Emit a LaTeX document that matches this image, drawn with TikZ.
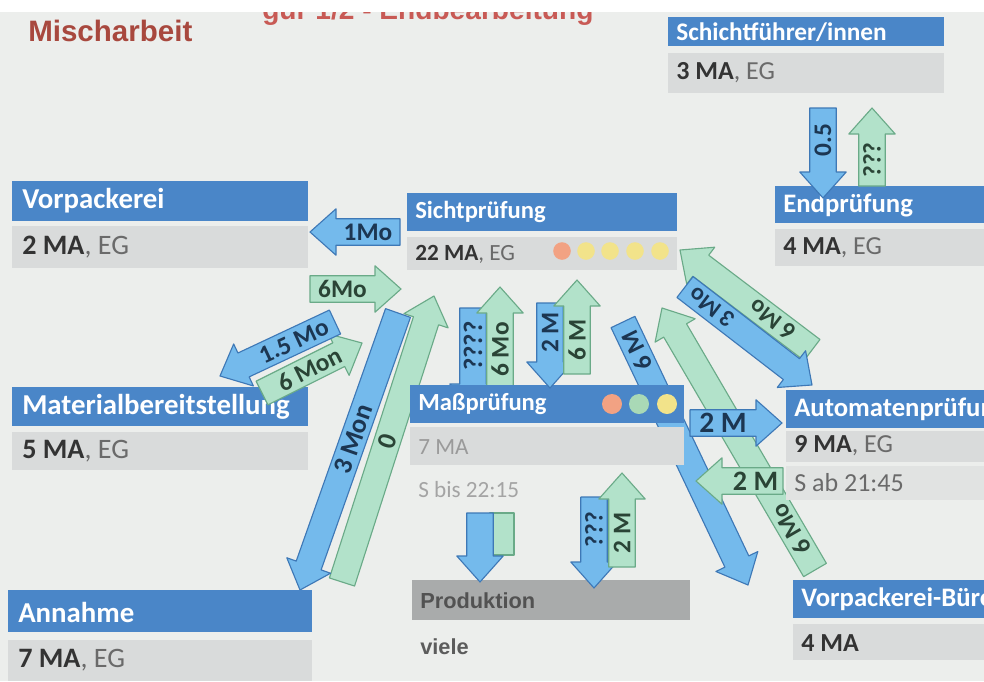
\documentclass[tikz,border=0pt]{standalone}
\usepackage{fontspec}
\setmainfont{Carlito}
\newfontfamily\arialfont{Liberation Sans}
\usetikzlibrary{calc}

\definecolor{hintergrund}{HTML}{ECEEEC}
\definecolor{kopfblau}{HTML}{4A86C8}
\definecolor{feldgrau}{HTML}{D9DBDB}
\definecolor{prodgrau}{HTML}{A9ABAB}
\definecolor{pfeilblau}{HTML}{74BAEC}
\definecolor{randblau}{HTML}{3E78B6}
\definecolor{pfeilgruen}{HTML}{B2E2CA}
\definecolor{randgruen}{HTML}{6AAA88}
\definecolor{titelrot}{HTML}{A8483E}
\definecolor{titelrosa}{HTML}{C85A55}
\definecolor{schrift}{HTML}{333333}
\definecolor{grau}{HTML}{6A6A6A}
\definecolor{hellgrau}{HTML}{9A9A9A}
\definecolor{punktorange}{HTML}{F2A283}
\definecolor{punktgelb}{HTML}{F2E38A}
\definecolor{punktgruen}{HTML}{A9D9B6}

\tikzset{
  kopftext/.style={anchor=west, inner sep=0pt, text=white, font=\fontsize{17.5}{18}\selectfont\bfseries},
  kopflinks/.style={kopftext, font=\fontsize{20.5}{21}\selectfont\bfseries},
  kopfrechts/.style={kopftext, font=\fontsize{19}{19}\selectfont\bfseries},
  feldtext/.style={anchor=west, inner sep=0pt, text=schrift, font=\fontsize{16.5}{17}\selectfont},
  feldlinks/.style={feldtext, font=\fontsize{20}{20}\selectfont},
  feldrechts/.style={feldtext, font=\fontsize{18.5}{19}\selectfont},
  blaupfeil/.style={fill=pfeilblau, draw=randblau, line width=0.8pt, line join=round},
  gruenpfeil/.style={fill=pfeilgruen, draw=randgruen, line width=0.8pt, line join=round},
  blaupfeiltext/.style={inner sep=0pt, text=randblau!45!black},
  gruenpfeiltext/.style={inner sep=0pt, text=randgruen!40!black},
  punkt/.style={circle, inner sep=0pt, minimum size=4.4mm}
}

% block arrow: [label size] style, start, tip, label, label rotation, label position
\newcommand{\pfeil}[7][18]{%
  \coordinate (hb) at ($(#4)!6.5mm!(#3)$);
  \draw[#2] ($(#3)!3.3mm!90:(#4)$) -- ($(hb)!3.3mm!90:(#4)$) -- ($(hb)!5.8mm!90:(#4)$) -- (#4)
    -- ($(hb)!5.8mm!-90:(#4)$) -- ($(hb)!3.3mm!-90:(#4)$) -- ($(#3)!3.3mm!-90:(#4)$) -- cycle;
  \node[#2text, rotate=#6, font=\fontsize{#1}{#1}\selectfont\bfseries] at ($(#3)!#7!(hb)$) {#5};
}
\newcommand{\mafeld}[2]{\textbf{#1}\textcolor{grau}{#2}}

\begin{document}
\begin{tikzpicture}[x=0.25mm,y=-0.25mm]
    \useasboundingbox (0,0) rectangle (984,681);
    \fill[white] (0,0) rectangle (984,12);
    \fill[hintergrund] (0,12) rectangle (984,681);
    \begin{scope}
    \clip (0,12) rectangle (984,681);
    % titles
    \node[anchor=base west, inner sep=0pt, text=titelrot, font=\arialfont\fontsize{21}{21}\selectfont\bfseries] (titel) at (28,41) {Mischarbeit};
    \node[anchor=base west, inner sep=0pt, text=titelrosa, font=\arialfont\fontsize{20}{20}\selectfont\bfseries] (titelzwei) at (262,19) {gur 1/2 - Endbearbeitung};

    % arrows behind the boxes
    \pfeil[19]{blaupfeil}{473,308}{473,410}{????}{90}{0.5}
    \pfeil{gruenpfeil}{500,386}{500,287}{6 Mo}{90}{0.5}
    \pfeil{blaupfeil}{623,322}{748,585}{6 M}{116}{0.12}
    \pfeil{gruenpfeil}{815,570}{662,308}{6 Mo}{120}{0.17}
    \pfeil[19]{gruenpfeil}{342,582}{434,296}{0}{72}{0.54}
    \pfeil[19]{blaupfeil}{398,313}{300,590}{3 Mon}{70.5}{0.5}

    % Schichtfuehrer/innen
    \fill[kopfblau] (668,17) rectangle (944,46);
    \node[kopfrechts, font=\fontsize{18}{18}\selectfont\bfseries] (schicht) at (676,32) {Schichtführer/innen};
    \fill[feldgrau] (668,53) rectangle (944,93);
    \node[feldrechts] (schichtma) at (676,73) {\mafeld{3 MA}{, EG}};

    % Vorpackerei
    \fill[kopfblau] (12,181) rectangle (308,221);
    \node[kopflinks] (vorp) at (22,201) {Vorpackerei};
    \fill[feldgrau] (12,226) rectangle (308,268);
    \node[feldlinks] (vorpma) at (22,247) {\mafeld{2 MA}{, EG}};

    % Sichtpruefung
    \fill[kopfblau] (407,193) rectangle (677,231);
    \node[kopftext] (sicht) at (415,212) {Sichtprüfung};
    \fill[feldgrau] (407,237) rectangle (677,270);
    \node[feldtext] (sichtma) at (415,254) {\mafeld{22 MA}{, EG}};
    \node[punkt, fill=punktorange] (s1) at (562,251) {};
    \foreach \x/\n in {586/2,610/3,635/4,660/5}
        \node[punkt, fill=punktgelb] (s\n) at (\x,251) {};

    % Endpruefung
    \fill[kopfblau] (775,186) rectangle (984,223);
    \node[kopfrechts] (endp) at (783,205) {Endprüfung};
    \fill[feldgrau] (775,229) rectangle (984,266);
    \node[feldrechts] (endpma) at (783,248) {\mafeld{4 MA}{, EG}};

    % Materialbereitstellung
    \fill[kopfblau] (12,387) rectangle (308,426);
    \node[kopflinks] (mat) at (22,407) {Materialbereitstellung};
    \fill[feldgrau] (12,432) rectangle (308,470);
    \node[feldlinks] (matma) at (22,451) {\mafeld{5 MA}{, EG}};

    % Masspruefung
    \fill[kopfblau] (410,385) rectangle (684,423);
    \node[kopftext] (mass) at (418,404) {Maßprüfung};
    \node[punkt, minimum size=5mm, fill=punktorange] (m1) at (612,404) {};
    \node[punkt, minimum size=5mm, fill=punktgruen] (m2) at (639,404) {};
    \node[punkt, minimum size=5mm, fill=punktgelb] (m3) at (667,404) {};
    \fill[feldgrau] (410,427) rectangle (684,465);
    \node[feldtext, text=hellgrau] (massma) at (418,447) {7 MA};
    \node[feldtext, text=hellgrau!90!white] (massschicht) at (418,490) {S bis 22:15};

    % Automatenpruefung
    \fill[kopfblau] (786,390) rectangle (984,428);
    \node[kopfrechts] (auto) at (794,409) {Automatenprüfung};
    \fill[feldgrau] (786,431) rectangle (984,462);
    \node[feldrechts] (automa) at (794,446) {\mafeld{9 MA}{, EG}};
    \fill[feldgrau!60!hintergrund] (786,466) rectangle (984,500);
    \node[feldrechts, text=grau] (autoschicht) at (794,483) {S ab 21:45};

    % Annahme
    \fill[kopfblau] (8,590) rectangle (312,632);
    \node[kopflinks] (annahme) at (18,612) {Annahme};
    \fill[feldgrau] (8,640) rectangle (312,681);
    \node[feldlinks] (annahmema) at (18,660) {\mafeld{7 MA}{, EG}};

    % Produktion
    \fill[prodgrau] (412,580) rectangle (690,620);
    \node[anchor=west, inner sep=0pt, text=schrift!85!white, font=\arialfont\fontsize{15.5}{16}\selectfont\bfseries] (prod) at (420,601) {Produktion};
    \node[anchor=west, inner sep=0pt, text=schrift!80!white, font=\arialfont\fontsize{15.5}{16}\selectfont\bfseries] (prodma) at (420,647) {viele};

    % Vorpackerei-Buero
    \fill[kopfblau] (793,580) rectangle (984,618);
    \node[kopfrechts] (buero) at (801,599) {Vorpackerei-Büro};
    \fill[feldgrau] (793,624) rectangle (984,660);
    \node[feldrechts] (bueroma) at (801,643) {\textbf{4 MA}};

    % arrows on top
    \pfeil{blaupfeil}{400,232}{310,232}{1Mo}{0}{0.5}
    \pfeil{gruenpfeil}{310,289}{401,289}{6Mo}{0}{0.5}
    \pfeil[18]{gruenpfeil}{262,393}{362,343}{6 Mon}{26.6}{0.62}
    \pfeil[18]{blaupfeil}{335,322}{220,376}{1.5 Mo}{25}{0.45}
    \pfeil{blaupfeil}{550,303}{550,388}{2 M}{90}{0.5}
    \pfeil{gruenpfeil}{577,374}{577,280}{6 M}{90}{0.5}
    \pfeil[17]{gruenpfeil}{812,350}{680,250}{6 Mo}{143}{0.36}
    \pfeil[17]{blaupfeil}{685,287}{812,385}{3 Mo}{143}{0.25}
    \pfeil[21]{blaupfeil}{690,423}{782,423}{2 M}{0}{0.5}
    \pfeil[20]{gruenpfeil}{783,481}{696,481}{2 M}{0}{0.45}
    \pfeil{blaupfeil}{823,108}{823,198}{0.5}{90}{0.5}
    \pfeil{gruenpfeil}{872,186}{872,108}{???}{90}{0.5}
    \draw[gruenpfeil] (490,513) rectangle (514,555);
    \pfeil{blaupfeil}{480,513}{480,582}{}{0}{0.5}
    \pfeil{blaupfeil}{594,497}{594,588}{???}{90}{0.5}
    \pfeil{gruenpfeil}{622,567}{622,473}{2 M}{90}{0.5}
    \end{scope}
\end{tikzpicture}
\end{document}
